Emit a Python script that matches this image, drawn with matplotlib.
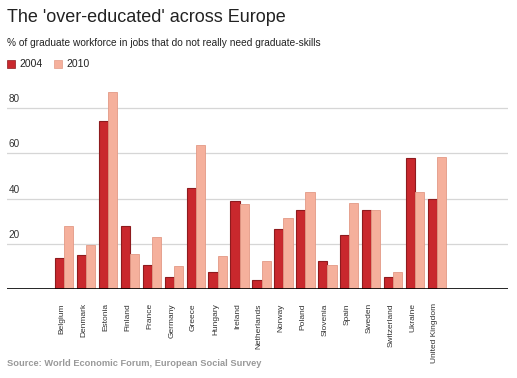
import numpy as np
import matplotlib.pyplot as plt

plt.rcParams['font.family'] = ['Liberation Sans', 'DejaVu Sans']

# data
countries = ['Belgium', 'Denmark', 'Estonia', 'Finland', 'France', 'Germany',
             'Greece', 'Hungary', 'Ireland', 'Netherlands', 'Norway', 'Poland',
             'Slovenia', 'Spain', 'Sweden', 'Switzerland', 'Ukraine',
             'United Kingdom']
y2004 = [13.7, 15.3, 74.4, 27.9, 10.7, 5.6, 44.6, 7.5, 39.0, 4.1, 26.6, 35.1,
         12.6, 23.8, 35.1, 5.6, 58.1, 40.0]
y2010 = [27.9, 19.6, 87.1, 15.6, 23.1, 10.4, 63.7, 14.8, 37.7, 12.6, 31.6, 43.0,
         10.7, 38.1, 35.1, 7.8, 43.0, 58.4]
yticks = [20, 40, 60, 80]

c04, e04 = '#c9282d', '#8e1b1e'
c10, e10 = '#f5b09c', '#e39a86'

fig = plt.figure(figsize=(5.17, 3.78), dpi=100)
ax = fig.add_axes([7/517, 1 - 289.3/378, 501/517, (289.3 - 85.4)/378])

x = np.arange(len(countries))
w = 0.42
ax.bar(x - w/2, y2004, w, color=c04, edgecolor=e04, linewidth=0.8, zorder=3)
ax.bar(x + w/2, y2010, w, color=c10, edgecolor=e10, linewidth=0.6, zorder=3)

ax.set_xlim(-2.61, 20.24)
ax.set_ylim(0, 90)

for t in yticks:
    ax.axhline(t, color='#d6d6d6', lw=0.9, zorder=1)
    ax.text(0.003, t + 4, str(t), transform=ax.get_yaxis_transform(),
            fontsize=7.2, color='#333333', ha='left', va='center')
ax.axhline(0, color='black', lw=1.2, zorder=4)

for s in ax.spines.values():
    s.set_visible(False)
ax.set_yticks([])
ax.set_xticks(x - 0.1)
ax.set_xticklabels(countries, rotation=90, fontsize=6, color='#333333', va='top')
ax.tick_params(axis='x', length=0, pad=10)

fig.text(7/517, 1 - 17/378, "The 'over-educated' across Europe", fontsize=13,
         color='#222222', va='center')
fig.text(7/517, 1 - 43/378,
         '% of graduate workforce in jobs that do not really need graduate-skills',
         fontsize=7.3, color='#222222', va='center')

# legend
for px, col, ec, lab in [(7, c04, e04, '2004'), (54, c10, e10, '2010')]:
    fig.patches.append(plt.Rectangle((px/517, 1 - 68/378), 8/517, 8/378,
                                     transform=fig.transFigure, color=col, ec=ec, lw=0.5))
    fig.text((px + 12)/517, 1 - 64/378, lab, fontsize=7.5, color='#222222', va='center')

fig.text(7/517, 1 - 363/378, 'Source: World Economic Forum, European Social Survey',
         fontsize=6.7, color='#999999', fontweight='bold', va='center')

fig.savefig('out.png', dpi=100, facecolor='white')
